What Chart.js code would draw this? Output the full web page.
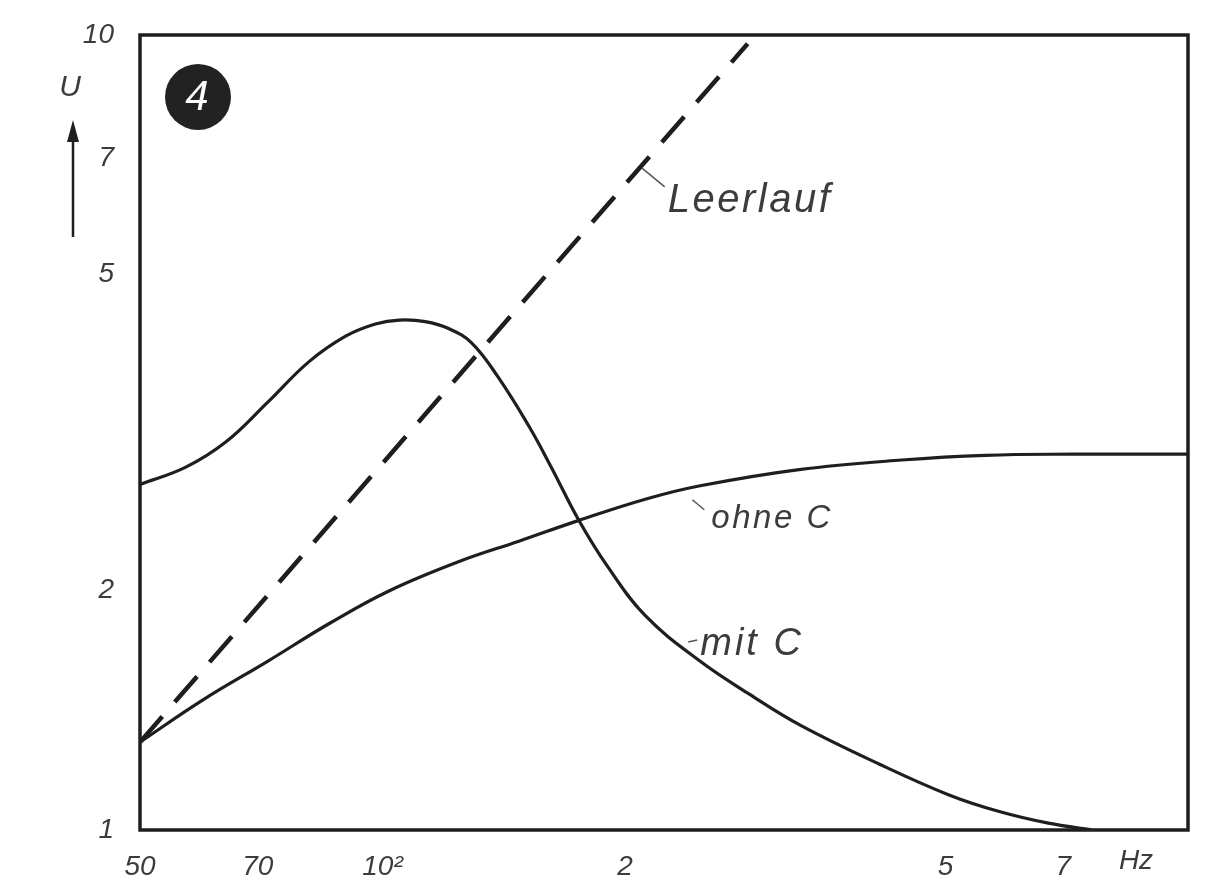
<!DOCTYPE html>
<html>
<head>
<meta charset="utf-8">
<script src="https://cdn.jsdelivr.net/npm/chart.js@4/dist/chart.umd.min.js"></script>
<style>
  html, body { margin: 0; padding: 0; background: #fff; }
  #wrap { width: 1209px; height: 885px; }
</style>
</head>
<body>
<div id="wrap"><canvas id="myChart" width="1209" height="885"></canvas></div>
<script>
// data (f in Hz, U relative)
const mitC_f = [50, 57, 64, 72, 81, 90, 98, 105, 113, 121, 129, 139, 152, 162, 175, 190, 212, 248, 286, 330, 414, 505, 583, 671, 760];
const mitC_U = [2.72, 2.86, 3.08, 3.45, 3.88, 4.18, 4.33, 4.38, 4.36, 4.27, 4.10, 3.72, 3.22, 2.86, 2.46, 2.15, 1.86, 1.63, 1.48, 1.355, 1.21, 1.107, 1.055, 1.02, 1.0];

const ohneC_f = [50, 60, 72, 86, 102, 125, 148, 175, 213, 248, 329, 441, 560, 720, 1000];
const ohneC_U = [1.29, 1.46, 1.63, 1.82, 2.0, 2.18, 2.31, 2.45, 2.61, 2.71, 2.84, 2.92, 2.96, 2.97, 2.97];

const leer_f = [50, 284];
const leer_U = [1.29, 9.75];

const xTicks = [50, 70, 100, 200, 500, 700];
const xTickLabels = ['50', '70', '10²', '2', '5', '7'];
const yTicks = [1, 2, 5, 7, 10];
const yTickLabels = ['1', '2', '5', '7', '10'];

// curve labels: anchor = left end of text baseline (data coords)
const notes = [
  { text: 'Leerlauf', f: 226, U: 5.99, size: 40, spacing: 2.5, lead: [-26, -44, -3, -25] },
  { text: 'ohne C', f: 256, U: 2.40, size: 33, spacing: 2.5, lead: [-19, -28, -7, -18] },
  { text: 'mit C', f: 248, U: 1.66, size: 38, spacing: 3, lead: [-12, -13, -3, -15] }
];

const ink = '#1e1e1e';
const textInk = '#3c3c3c';
const fontFam = "'Liberation Sans', 'DejaVu Sans', sans-serif";

const toPts = (fs, us) => fs.map((f, i) => ({ x: f, y: us[i] }));

const data = {
  datasets: [
    {
      label: 'mit C',
      data: toPts(mitC_f, mitC_U),
      borderColor: ink,
      borderWidth: 3.2,
      pointRadius: 0,
      tension: 0.4
    },
    {
      label: 'ohne C',
      data: toPts(ohneC_f, ohneC_U),
      borderColor: ink,
      borderWidth: 3.2,
      pointRadius: 0,
      tension: 0.4
    },
    {
      label: 'Leerlauf',
      data: toPts(leer_f, leer_U),
      borderColor: ink,
      borderWidth: 4.5,
      borderDash: [34, 19],
      pointRadius: 0
    }
  ]
};

const extras = {
  id: 'extras',
  afterDraw(chart) {
    const { ctx, chartArea: { left, top, right, bottom }, scales: { x, y } } = chart;
    ctx.save();

    // frame
    ctx.strokeStyle = ink;
    ctx.lineWidth = 3.5;
    ctx.strokeRect(left, top, right - left, bottom - top);

    // badge "4"
    ctx.fillStyle = '#222';
    ctx.beginPath();
    ctx.arc(left + 58, top + 62, 33, 0, Math.PI * 2);
    ctx.fill();
    ctx.fillStyle = '#fff';
    ctx.font = 'italic 42px ' + fontFam;
    ctx.textAlign = 'center';
    ctx.textBaseline = 'middle';
    ctx.fillText('4', left + 57, top + 63);

    // U label with arrow
    ctx.fillStyle = textInk;
    ctx.font = 'italic 30px ' + fontFam;
    ctx.fillText('U', 70, 88);
    ctx.strokeStyle = ink;
    ctx.lineWidth = 2.5;
    ctx.beginPath();
    ctx.moveTo(73, 237);
    ctx.lineTo(73, 130);
    ctx.stroke();
    ctx.fillStyle = ink;
    ctx.beginPath();
    ctx.moveTo(73, 120);
    ctx.lineTo(67, 142);
    ctx.lineTo(79, 142);
    ctx.closePath();
    ctx.fill();

    // Hz unit
    ctx.fillStyle = textInk;
    ctx.font = 'italic 28px ' + fontFam;
    ctx.textAlign = 'center';
    ctx.fillText('Hz', 1136, 861);

    // curve labels
    ctx.textAlign = 'left';
    ctx.textBaseline = 'alphabetic';
    notes.forEach(n => {
      const px = x.getPixelForValue(n.f);
      const py = y.getPixelForValue(n.U);
      ctx.font = 'italic ' + n.size + 'px ' + fontFam;
      ctx.letterSpacing = n.spacing + 'px';
      ctx.fillStyle = textInk;
      ctx.fillText(n.text, px, py);
      ctx.strokeStyle = '#555';
      ctx.lineWidth = 1.5;
      ctx.beginPath();
      ctx.moveTo(px + n.lead[0], py + n.lead[1]);
      ctx.lineTo(px + n.lead[2], py + n.lead[3]);
      ctx.stroke();
    });
    ctx.letterSpacing = '0px';
    ctx.restore();
  }
};

const config = {
  type: 'line',
  data,
  options: {
    responsive: false,
    animation: false,
    layout: { padding: { top: 35, right: 21, left: 0, bottom: 0 } },
    plugins: { legend: { display: false }, tooltip: { enabled: false } },
    scales: {
      x: {
        type: 'logarithmic',
        min: 50,
        max: 1000,
        grid: { display: false },
        border: { display: false },
        afterBuildTicks: s => { s.ticks = xTicks.map(v => ({ value: v })); },
        afterFit: s => { s.height = 55; },
        ticks: {
          autoSkip: false,
          maxRotation: 0,
          padding: 12,
          color: textInk,
          font: { family: fontFam, size: 28, style: 'italic' },
          callback: (v) => { const i = xTicks.indexOf(v); return i >= 0 ? xTickLabels[i] : ''; }
        }
      },
      y: {
        type: 'logarithmic',
        min: 1,
        max: 10,
        grid: { display: false },
        border: { display: false },
        afterBuildTicks: s => { s.ticks = yTicks.map(v => ({ value: v })); },
        afterFit: s => { s.width = 140; },
        ticks: {
          autoSkip: false,
          padding: 18,
          color: textInk,
          font: { family: fontFam, size: 28, style: 'italic' },
          callback: (v) => { const i = yTicks.indexOf(v); return i >= 0 ? yTickLabels[i] : ''; }
        }
      }
    }
  },
  plugins: [extras]
};

const myChart = new Chart(document.getElementById('myChart'), config);
</script>
</body>
</html>
